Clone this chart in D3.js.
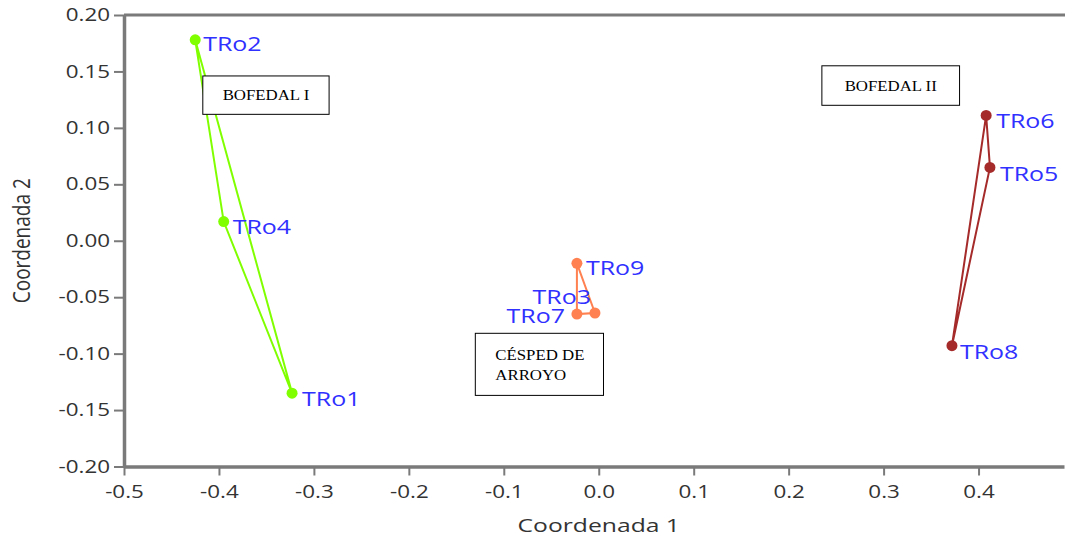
<!DOCTYPE html>
<html><head><meta charset="utf-8">
<script src="https://cdn.jsdelivr.net/npm/d3@7/dist/d3.min.js"></script>
<style>body{margin:0;background:#fff}svg{display:block}</style>
</head><body>
<svg id="c" width="1065" height="538"></svg>
<script>
// ---- data ----
const names  = ["TRo1","TRo2","TRo3","TRo4","TRo5","TRo6","TRo7","TRo8","TRo9"];
const coord1 = [-0.323,-0.425,-0.004,-0.395,0.412,0.408,-0.023,0.372,-0.023];
const coord2 = [-0.135, 0.178,-0.064, 0.017,0.065,0.111,-0.065,-0.093,-0.020];
const group  = ["BOFEDAL I","BOFEDAL I","CÉSPED DE ARROYO","BOFEDAL I","BOFEDAL II","BOFEDAL II","CÉSPED DE ARROYO","BOFEDAL II","CÉSPED DE ARROYO"];
const groups = ["BOFEDAL I","CÉSPED DE ARROYO","BOFEDAL II"];
const groupColors = ["#80ff00","#ff8050","#a52a2a"];
// annotation boxes: [x0, y0, x1, y1] in data units
const boxLabels = [["BOFEDAL I"],["CÉSPED DE","ARROYO"],["BOFEDAL II"]];
const boxX0 = [-0.417,-0.130,0.235];
const boxX1 = [-0.284,0.005,0.380];
const boxY0 = [0.146,-0.082,0.155];
const boxY1 = [0.112,-0.137,0.120];
const xTicks = [-0.5,-0.4,-0.3,-0.2,-0.1,0.0,0.1,0.2,0.3,0.4];
const yTicks = [-0.20,-0.15,-0.10,-0.05,0.00,0.05,0.10,0.15,0.20];
// label offsets (px) per point
const labDx = [10,8,-4,9,10,10,-12,8,9];
const labDy = [13,11,-9,12,14,13,9,13,12];
const labAnchor = ["start","start","end","start","start","start","end","start","start"];

const SX = 1.28; // horizontal text stretch of the original
const svg = d3.select("#c");
const L = 124, T = 15, R = 1064, B = 466.5;
const x = d3.scaleLinear().domain([-0.5,0.49]).range([L,R]);
const y = d3.scaleLinear().domain([-0.2,0.2]).range([B,T]);

function stext(g,px,py,str,anchor,sx){
  return g.append("text").attr("transform",`translate(${px},${py}) scale(${sx||SX},1)`)
    .attr("text-anchor",anchor||"start").text(str);
}
const hy = f => d => f(d).replace("\u2212","-");

// axes
const axisCol="#7a7a7a";
const xa = svg.append("g").attr("transform",`translate(0,${B})`)
  .call(d3.axisBottom(x).tickValues(xTicks).tickFormat(hy(d3.format(".1f"))).tickSize(9).tickSizeOuter(0));
const ya = svg.append("g").attr("transform",`translate(${L},0)`)
  .call(d3.axisLeft(y).tickValues(yTicks).tickFormat(hy(d3.format(".2f"))).tickSize(10).tickSizeOuter(0));
[xa,ya].forEach(a=>{
  a.select(".domain").attr("stroke",axisCol).attr("stroke-width",3.5);
  a.selectAll(".tick line").attr("stroke",axisCol).attr("stroke-width",2);
  a.selectAll("text").attr("font-family","'Open Sans',sans-serif").attr("font-size",17.5).attr("fill","#333");
});
xa.selectAll(".tick text").attr("y",19).attr("x",0).attr("transform",`scale(${SX},1)`);
ya.selectAll(".tick text").attr("x",-14/SX).attr("transform",`scale(${SX},1)`);
// top border
svg.append("line").attr("x1",L).attr("x2",1065).attr("y1",T).attr("y2",T)
  .attr("stroke",axisCol).attr("stroke-width",3);

// axis titles
const tf = svg.append("g").attr("font-family","'Open Sans',sans-serif").attr("font-size",19).attr("fill","#333");
stext(tf,x(0),532,"Coordenada 1","middle",1.3);
tf.append("text").attr("transform",`translate(30,${(T+B)/2}) rotate(-90) scale(1,${SX})`)
  .attr("text-anchor","middle").text("Coordenada 2");

// hulls
const plot = svg.append("g");
groups.forEach((gname,gi)=>{
  const pts = names.map((n,i)=>i).filter(i=>group[i]===gname).map(i=>[x(coord1[i]),y(coord2[i])]);
  const hull = d3.polygonHull(pts);
  plot.append("path").attr("d","M"+hull.join("L")+"Z").attr("fill","none")
    .attr("stroke",groupColors[gi]).attr("stroke-width",2);
});
// points
names.forEach((n,i)=>{
  plot.append("circle").attr("cx",x(coord1[i])).attr("cy",y(coord2[i])).attr("r",5.5)
    .attr("fill",groupColors[groups.indexOf(group[i])]);
});
// labels
const lg = svg.append("g").attr("font-family","'Open Sans',sans-serif").attr("font-size",19.5).attr("fill","#3030ff");
names.forEach((n,i)=>{
  stext(lg,x(coord1[i])+labDx[i],y(coord2[i])+labDy[i],n,labAnchor[i]);
});

// annotation boxes
const bg = svg.append("g");
boxLabels.forEach((lines,i)=>{
  const x0=x(boxX0[i]), x1=x(boxX1[i]), y0=y(boxY0[i]), y1=y(boxY1[i]);
  bg.append("rect").attr("x",x0).attr("y",y0).attr("width",x1-x0).attr("height",y1-y0)
    .attr("fill","#fff").attr("stroke","#000").attr("stroke-width",1);
  const tg = bg.append("g").attr("font-family","'Liberation Serif',serif").attr("font-size",14).attr("fill","#000");
  if(lines.length===1){
    stext(tg,(x0+x1)/2,(y0+y1)/2+5,lines[0],"middle",1.2);
  } else {
    stext(tg,x0+20,y0+27,lines[0],"start",1.2);
    stext(tg,x0+20,y0+47,lines[1],"start",1.2);
  }
});
</script>
</body></html>
